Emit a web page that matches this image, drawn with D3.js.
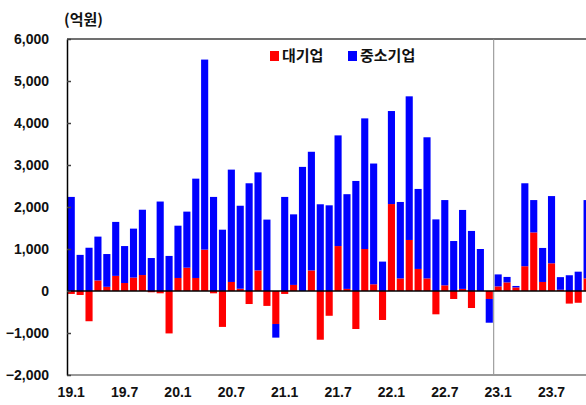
<!DOCTYPE html>
<html>
<head>
<meta charset="utf-8">
<script src="https://cdn.jsdelivr.net/npm/d3@7"></script>
<style>
  html, body { margin: 0; padding: 0; background: #fff; }
  svg { display: block; font-family: "Noto Sans CJK KR", "Noto Sans", sans-serif; }
</style>
</head>
<body>
<div id="vis"></div>
<script>
// ── DATA ───────────────────────────────────────────────────────────────────────
const months = [
  "19.1","19.2","19.3","19.4","19.5","19.6","19.7","19.8","19.9","19.10","19.11","19.12",
  "20.1","20.2","20.3","20.4","20.5","20.6","20.7","20.8","20.9","20.10","20.11","20.12",
  "21.1","21.2","21.3","21.4","21.5","21.6","21.7","21.8","21.9","21.10","21.11","21.12",
  "22.1","22.2","22.3","22.4","22.5","22.6","22.7","22.8","22.9","22.10","22.11","22.12",
  "23.1","23.2","23.3","23.4","23.5","23.6","23.7","23.8","23.9","23.10","23.11"
];
// 대기업 (억원)
const largeFirms = [
  -70, -95, -720, 250, 100, 360, 190, 320, 380, -30, -55, -1010,
  310, 555, 310, 985, -55, -855, 215, 55, -310, 490, -355, -785,
  -70, 145, 0, 490, -1160, -590, 1070, 50, -905, 1000, 160, -690,
  2070, 300, 1215, 525, 300, -555, 135, -190, 50, -405, 0, -190,
  110, 205, 85, 590, 1395, 215, 660, 30, -300, -280, 300
];
// 중소기업 (억원)
const smallFirms = [
  2240, 860, 1030, 1045, 780, 1285, 880, 1165, 1555, 785, 2130, 835,
  1245, 1335, 2365, 4525, 2240, 1460, 2675, 1975, 2565, 2335, 1700, -325,
  2240, 1680, 2955, 2825, 2065, 2040, 2635, 2255, 2620, 3110, 2875, 700,
  2215, 1820, 3420, 1905, 3360, 1705, 2030, 1190, 1880, 1430, 1000, -565,
  285, 130, 35, 1975, 770, 810, 1600, 300, 375, 460, 1865
];
const seriesNames = ["대기업", "중소기업"];
const xTicks = ["19.1","19.7","20.1","20.7","21.1","21.7","22.1","22.7","23.1","23.7"];
const yTicks = [-2000, -1000, 0, 1000, 2000, 3000, 4000, 5000, 6000];
const dividerAfter = "22.12";

// ── CONFIG ─────────────────────────────────────────────────────────────────────
const width  = 586;
const height = 405;
const plotLeft = 67;
const plotTop = 39;
const plotBottom = 375;
const step = 8.894;
const colors = { "대기업": "#ff0000", "중소기업": "#0000ff" };

const svg = d3.select("#vis").append("svg")
    .attr("width", width)
    .attr("height", height)
    .attr("viewBox", [0, 0, width, height]);

const rows = months.map((m, i) => ({ month: m, "대기업": largeFirms[i], "중소기업": smallFirms[i] }));
const stacked = d3.stack()
    .keys(seriesNames)
    .offset(d3.stackOffsetDiverging)(rows);

const x = d3.scaleBand()
    .domain(months)
    .range([plotLeft - 0.2, plotLeft - 0.2 + step * months.length])
    .paddingInner(0.2)
    .paddingOuter(0.1);

const y = d3.scaleLinear()
    .domain([-2000, 6000])
    .range([plotBottom, plotTop]);

// top frame line
svg.append("line")
    .attr("x1", plotLeft).attr("x2", width)
    .attr("y1", y(6000)).attr("y2", y(6000))
    .attr("stroke", "#404040").attr("stroke-width", 1.5);

// bars
svg.append("g")
  .selectAll("g")
  .data(stacked)
  .join("g")
    .attr("fill", d => colors[d.key])
  .selectAll("rect")
  .data(d => d)
  .join("rect")
    .attr("x", d => x(d.data.month))
    .attr("width", x.bandwidth())
    .attr("y", d => y(Math.max(d[0], d[1])))
    .attr("height", d => Math.abs(y(d[0]) - y(d[1])));

// divider between 22.12 and 23.1
const xDiv = x(dividerAfter) + x.bandwidth() + x.step() * x.paddingInner() / 2;
svg.append("line")
    .attr("x1", xDiv).attr("x2", xDiv)
    .attr("y1", y(6000)).attr("y2", y(-2000))
    .attr("stroke", "#8c8c8c").attr("stroke-width", 1);

// bottom line
svg.append("line")
    .attr("x1", plotLeft).attr("x2", width)
    .attr("y1", y(-2000)).attr("y2", y(-2000))
    .attr("stroke", "#999").attr("stroke-width", 2);

// zero line
svg.append("line")
    .attr("x1", plotLeft).attr("x2", width)
    .attr("y1", y(0)).attr("y2", y(0))
    .attr("stroke", "#000").attr("stroke-width", 1.5);

// y axis
const yAxis = svg.append("g")
    .attr("transform", `translate(${plotLeft},0)`)
    .call(d3.axisLeft(y).tickValues(yTicks).tickFormat(d3.format(",")).tickSize(-4).tickPadding(18).tickSizeOuter(0));
yAxis.select(".domain").attr("stroke", "#000").attr("stroke-width", 1.5);
yAxis.selectAll(".tick line").attr("stroke", "#404040").attr("stroke-width", 1.5);
yAxis.selectAll(".tick text")
    .attr("fill", "#111")
    .style("font-size", "14px")
    .style("font-weight", "bold");

// x axis (labels only)
const xAxis = svg.append("g")
    .attr("transform", `translate(0,${plotBottom})`)
    .call(d3.axisBottom(x).tickValues(xTicks).tickSize(0).tickPadding(12));
xAxis.select(".domain").remove();
xAxis.selectAll(".tick text")
    .attr("fill", "#111")
    .style("font-size", "14px")
    .style("font-weight", "bold");

// unit label
svg.append("text")
    .attr("x", 64).attr("y", 20)
    .attr("dy", "0.35em")
    .attr("fill", "#111")
    .style("font-size", "15px")
    .style("font-weight", "bold")
    .text("(억원)");

// legend
const legendPos = { "대기업": 270, "중소기업": 348 };
const legend = svg.append("g")
  .selectAll("g")
  .data(seriesNames)
  .join("g")
    .attr("transform", d => `translate(${legendPos[d]},51)`);
legend.append("rect")
    .attr("width", 9).attr("height", 10)
    .attr("fill", d => colors[d]);
legend.append("text")
    .attr("x", 12).attr("y", 5)
    .attr("dy", "0.35em")
    .attr("fill", "#111")
    .style("font-size", "15px")
    .style("font-weight", "bold")
    .text(d => d);
</script>
</body>
</html>
